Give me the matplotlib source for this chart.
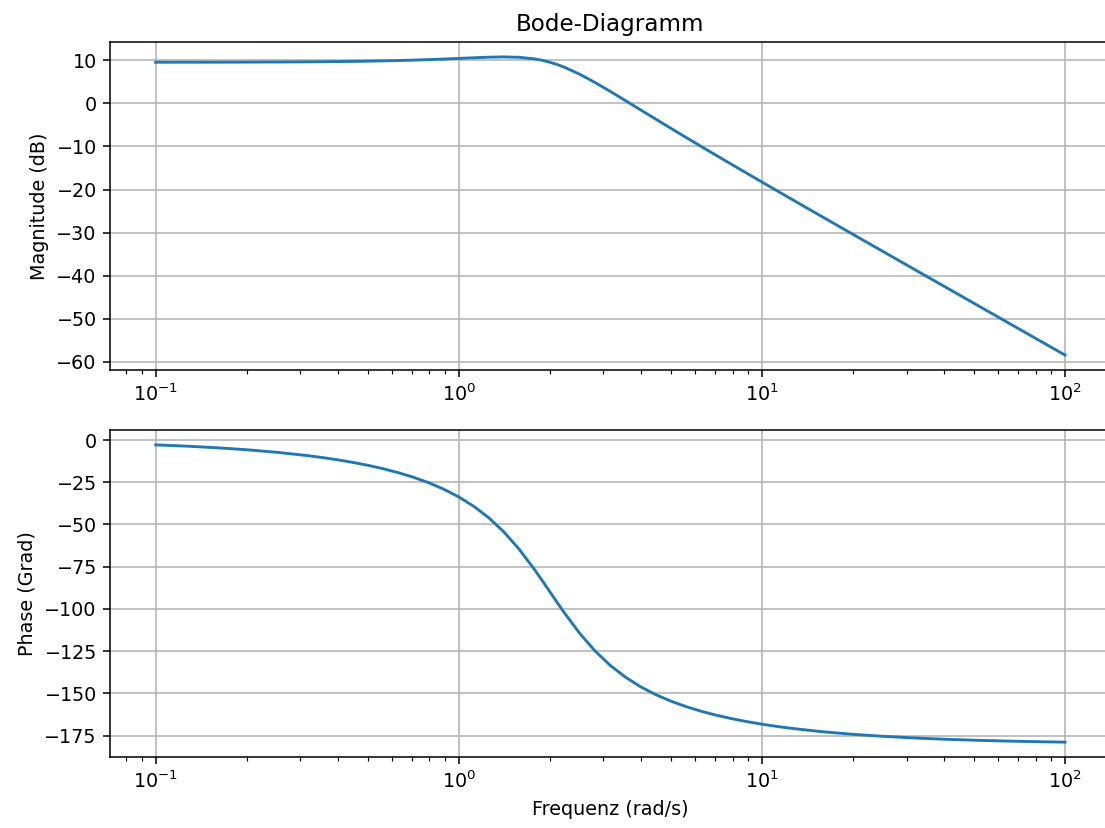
import matplotlib
matplotlib.use("Agg")
import matplotlib.pyplot as plt

# Frequency points (rad/s), read along the log axis
omega = [0.1, 0.12589, 0.15849, 0.19953, 0.25119, 0.31623, 0.35481, 0.39811,
         0.44668, 0.50119, 0.56234, 0.63096, 0.70795, 0.79433, 0.89125, 1.0,
         1.12202, 1.25893, 1.41254, 1.58489, 1.77828, 1.88365, 1.99526,
         2.11349, 2.23872, 2.51189, 2.81838, 3.16228, 3.54813, 3.98107,
         4.46684, 5.01187, 5.62341, 6.30957, 7.07946, 7.94328, 8.91251, 10.0,
         11.2202, 12.5893, 15.8489, 19.9526, 25.1189, 31.6228, 39.8107,
         50.1187, 63.0957, 79.4328, 100.0]

magnitude_db = [9.554, 9.560, 9.570, 9.586, 9.611, 9.650, 9.677, 9.711,
                9.754, 9.806, 9.876, 9.951, 10.043, 10.162, 10.296, 10.445,
                10.598, 10.730, 10.792, 10.698, 10.329, 10.001, 9.563,
                9.011, 8.347, 6.731, 4.833, 2.776, 0.645, -1.508,
                -3.657, -5.792, -7.908, -10.005, -12.085, -14.150, -16.203, -18.246,
                -20.280, -22.308, -26.347, -30.373, -34.389, -38.399, -42.405,
                -46.409, -50.412, -54.413, -58.414]

phase_deg = [-2.869, -3.616, -4.559, -5.754, -7.272, -9.211, -10.380, -11.710,
             -13.228, -14.970, -16.978, -19.316, -22.032, -25.240, -29.077, -33.690,
             -39.312, -46.193, -54.638, -64.852, -76.746, -83.160, -89.728,
             -96.302, -102.734, -114.689, -124.977, -133.491, -140.425, -146.096,
             -150.751, -154.610, -157.845, -160.588, -162.933, -164.952, -166.705, -168.232,
             -169.569, -170.743, -172.693, -174.218, -175.419, -176.367, -177.117,
             -177.711, -178.183, -178.557, -178.854]

W, H = 1105.0, 828.0
fig = plt.figure(figsize=(W / 138, H / 138), dpi=138)

# axes boxes in pixels (the reference crops the right edge of the axes)
ax1 = fig.add_axes([110.2 / W, 1 - 370 / H, (1110.5 - 110.2) / W, (370 - 42) / H])
ax2 = fig.add_axes([110.2 / W, 1 - 757 / H, (1110.5 - 110.2) / W, (757 - 430) / H])

ax1.semilogx(omega, magnitude_db)
ax1.set_title("Bode-Diagramm")
ax1.set_ylabel("Magnitude (dB)")
ax1.grid(True)

ax2.semilogx(omega, phase_deg)
ax2.set_xlabel("Frequenz (rad/s)")
ax2.set_ylabel("Phase (Grad)")
ax2.grid(True)

fig.savefig("out.png", dpi=138)
